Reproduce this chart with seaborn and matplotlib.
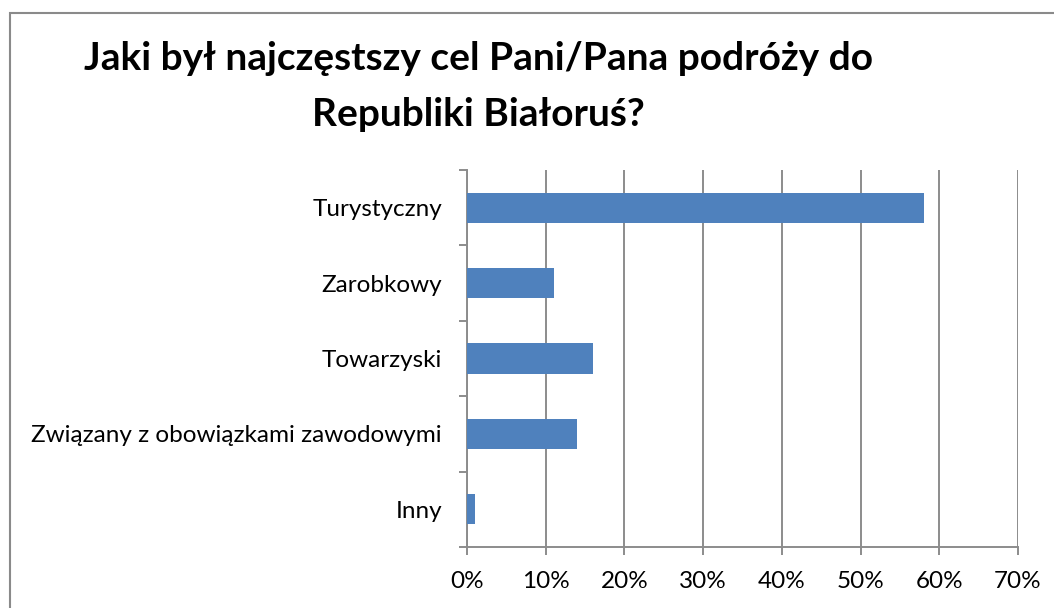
import matplotlib
matplotlib.use("Agg")
import matplotlib.pyplot as plt
from matplotlib.patches import Rectangle
from matplotlib.ticker import FixedLocator, PercentFormatter
import seaborn as sns
import pandas as pd

categories = [
    "Turystyczny",
    "Zarobkowy",
    "Towarzyski",
    "Związany z obowiązkami zawodowymi",
    "Inny",
]
shares = [0.58, 0.11, 0.16, 0.14, 0.01]
x_ticks = [0.0, 0.1, 0.2, 0.3, 0.4, 0.5, 0.6, 0.7]
title_lines = ["Jaki był najczęstszy cel Pani/Pana podróży do", "Republiki Białoruś?"]

sns.set_theme(style="white")
plt.rcParams["font.family"] = ["Lato", "DejaVu Sans"]

df = pd.DataFrame({"cel": categories, "udzial": shares})

W, H = 1054, 608
fig = plt.figure(figsize=(W / 100, H / 100), dpi=100)
ax = fig.add_axes([467 / W, 1 - 547 / H, (1018 - 467) / W, (547 - 170) / H])

grid_col = "#8c8c8c"
sns.barplot(data=df, x="udzial", y="cel", orient="h", color="#4F81BD",
            saturation=1, width=0.4, linewidth=0, ax=ax, zorder=3)

ax.set_xlim(0, 0.7)
ax.set_ylim(len(categories) - 0.5, -0.5)
ax.xaxis.set_major_locator(FixedLocator(x_ticks))
ax.xaxis.set_major_formatter(PercentFormatter(1.0, decimals=0))
ax.grid(axis="x", color=grid_col, linewidth=1.4, zorder=0)
ax.grid(axis="y", visible=False)
ax.set_xlabel("")
ax.set_ylabel("")

for side in ["top", "right"]:
    ax.spines[side].set_visible(False)
for side in ["left", "bottom"]:
    ax.spines[side].set_color(grid_col)
    ax.spines[side].set_linewidth(1.4)

# category boundary ticks on the y axis
ax.yaxis.set_minor_locator(FixedLocator([i - 0.5 for i in range(len(categories) + 1)]))
ax.tick_params(axis="y", which="major", length=0, pad=18, labelsize=17.5, labelcolor="black")
ax.tick_params(axis="y", which="minor", left=True, length=6, width=1.4, color=grid_col)
ax.tick_params(axis="x", which="major", bottom=True, length=6, width=1.4, color=grid_col,
               pad=11, labelsize=17.5, labelcolor="black")

# two-line bold title
for line, base_px in zip(title_lines, [70, 126]):
    fig.text(478 / W, 1 - base_px / H, line, ha="center", va="baseline",
             fontsize=28, fontweight="bold", color="black")

# outer chart frame
fig.patches.append(Rectangle((10 / W, -0.1), 1.2, 1.1 - 13 / H,
                             transform=fig.transFigure, fill=False,
                             edgecolor="#8a8a8a", linewidth=1.5))

fig.savefig("out.png", dpi=100)
